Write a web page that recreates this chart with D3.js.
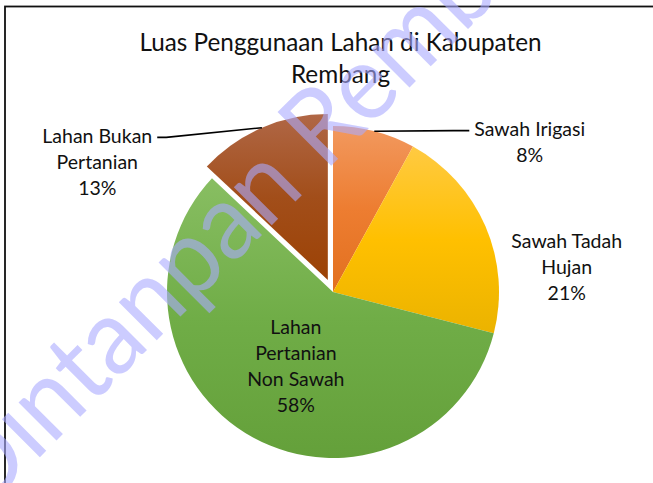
<!DOCTYPE html>
<html>
<head>
<meta charset="utf-8">
<script src="https://cdn.jsdelivr.net/npm/d3@7"></script>
<style>
  html, body { margin: 0; padding: 0; background: #fff; }
  svg { display: block; }
  text { font-family: Lato, "Open Sans", sans-serif; }
</style>
</head>
<body>
<svg id="chart" width="653" height="483"></svg>
<script>
// ---- data ----
const categories = ["Sawah Irigasi", "Sawah Tadah Hujan", "Lahan Pertanian Non Sawah", "Lahan Bukan Pertanian"];
const labelLines = [["Sawah Irigasi"], ["Sawah Tadah", "Hujan"], ["Lahan", "Pertanian", "Non Sawah"], ["Lahan Bukan", "Pertanian"]];
const values = [8, 21, 58, 13];
const titleLines = ["Luas Penggunaan Lahan di Kabupaten", "Rembang"];
const watermarkText = "Dintanpan Rembang";

// ---- styles / layout ----
const W = 653, H = 483;
const cx = 333, cy = 292, R = 166;
const explode = [0, 0, 0, 13];
const gradStops = [
  ["#F2995F", "#ED7D31", "#E2701F"],
  ["#FFCA42", "#FFC000", "#EBB300"],
  ["#88BE62", "#70AD47", "#64A03A"],
  ["#B06746", "#A24E1A", "#9C4205"]
];
// label placement: polar (angle in deg from top clockwise, distance from pie centre) of label centre
const labelPolar = [
  {ang: 52.8, dist: 247, leader: true, side: "right"},
  {ang: 84.0, dist: 235, leader: false},
  {ang: 206.6, dist: 83, leader: false},
  {ang: 298.8, dist: 269, leader: true, side: "left"}
];
const fontSize = 19.5, lineH = 26;

const svg = d3.select("#chart");
const defs = svg.append("defs");

gradStops.forEach((st, i) => {
  const g = defs.append("linearGradient").attr("id", "g" + i)
    .attr("x1", 0).attr("y1", 0).attr("x2", 0).attr("y2", 1);
  g.append("stop").attr("offset", "0%").attr("stop-color", st[0]);
  g.append("stop").attr("offset", "50%").attr("stop-color", st[1]);
  g.append("stop").attr("offset", "100%").attr("stop-color", st[2]);
});

// frame
svg.append("rect").attr("x", 5).attr("y", 6.5).attr("width", W + 20).attr("height", H + 20)
  .attr("fill", "none").attr("stroke", "#111").attr("stroke-width", 1.8);

// title
const title = svg.append("text").attr("text-anchor", "middle")
  .attr("font-size", 24.3).attr("fill", "#111");
titleLines.forEach((t, i) => {
  title.append("tspan").attr("x", 340.5).attr("y", 51 + i * 32).text(t);
});

// pie
const pie = d3.pie().sort(null).value(d => d)(values);
const arc = d3.arc().innerRadius(0).outerRadius(R);
const rad = a => a * Math.PI / 180;

const g = svg.append("g").attr("transform", `translate(${cx},${cy})`);
pie.forEach((p, i) => {
  const mid = (p.startAngle + p.endAngle) / 2;
  const ox = Math.sin(mid) * explode[i], oy = -Math.cos(mid) * explode[i];
  g.append("path").attr("d", arc(p))
    .attr("transform", `translate(${ox},${oy})`)
    .attr("fill", `url(#g${i})`);
});

// labels
const lab = svg.append("g").attr("font-size", fontSize).attr("fill", "#111").attr("text-anchor", "middle");
pie.forEach((p, i) => {
  const lp = labelPolar[i];
  const lx = cx + Math.sin(rad(lp.ang)) * lp.dist;
  const ly = cy - Math.cos(rad(lp.ang)) * lp.dist;
  const lines = labelLines[i].concat([values[i] + "%"]);
  const n = lines.length;
  const t = lab.append("text");
  lines.forEach((s, k) => {
    t.append("tspan").attr("x", lx).attr("y", ly + (k - (n - 1) / 2) * lineH + 6.5).text(s);
  });
  if (lp.leader) {
    const mid = (p.startAngle + p.endAngle) / 2;
    const ox = cx + Math.sin(mid) * explode[i], oy = cy - Math.cos(mid) * explode[i];
    const sx = ox + Math.sin(mid) * R, sy = oy - Math.cos(mid) * R;
    const firstW = t.select("tspan").node().getComputedTextLength();
    const ey = ly - (n - 1) / 2 * lineH + 1;
    let pts;
    if (lp.side === "right") {
      const ex = lx - firstW / 2 - 5;
      pts = [[sx, sy], [ex - 16, ey], [ex, ey]];
    } else {
      const ex = lx + firstW / 2 + 5;
      pts = [[sx, sy], [ex + 9, ey], [ex, ey]];
    }
    svg.append("path").attr("d", d3.line()(pts)).attr("fill", "none")
      .attr("stroke", "#000").attr("stroke-width", 1.6);
  }
});

// watermark: rotated -45deg, baseline along x + y = 497, first word ending at s = 82
const wmScale = 0.95;
const wm = svg.append("text").text(watermarkText)
  .attr("font-size", 106)
  .attr("fill", "#aaaaff").attr("fill-opacity", 0.6);
const firstWordW = wm.node().getSubStringLength(0, watermarkText.indexOf(" ")) * wmScale;
const s0 = 82 - firstWordW;
const wx = (497 + s0 * Math.SQRT2) / 2, wy = (497 - s0 * Math.SQRT2) / 2;
wm.attr("transform", `translate(${wx},${wy}) rotate(-45) scale(${wmScale},1)`);
</script>
</body>
</html>
